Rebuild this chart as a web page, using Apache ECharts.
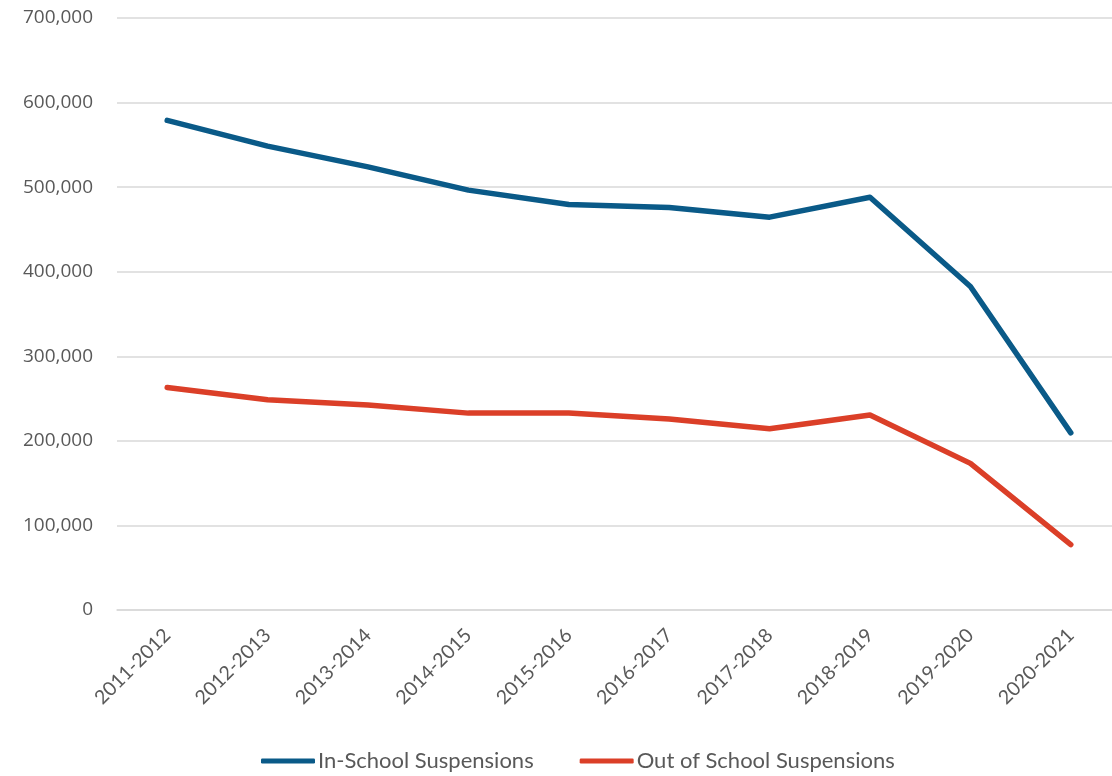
<!DOCTYPE html>
<html>
<head>
<meta charset="utf-8">
<script src="https://cdn.jsdelivr.net/npm/echarts@6/dist/echarts.min.js"></script>
<style>
  html, body { margin: 0; padding: 0; background: #ffffff; overflow: hidden; }
  /* canvas is a little wider than the page so the last band runs past the edge */
  #chart { width: 1130px; height: 776px; }
</style>
</head>
<body>
<div id="chart"></div>
<script>
// School years on the category axis
const schoolYears = ['2011-2012', '2012-2013', '2013-2014', '2014-2015', '2015-2016',
                     '2016-2017', '2017-2018', '2018-2019', '2019-2020', '2020-2021'];

// Suspension counts per school year
const inSchool = [579000, 548500, 524000, 496500, 479500, 476000, 464500, 488000, 382500, 209500];
const outOfSchool = [263200, 248500, 242500, 232800, 232800, 225800, 214200, 230600, 173400, 77300];

// Series names shown in the legend
const seriesNames = ['In-School Suspensions', 'Out of School Suspensions'];

const chart = echarts.init(document.getElementById('chart'), null, { renderer: 'canvas' });

const textColor = '#595959';
const gridColor = '#d9d9d9';

chart.setOption({
  animation: false,
  backgroundColor: '#ffffff',
  color: ['#0a5a88', '#db3f28'],
  grid: { left: 117, width: 1004, top: 18, bottom: 166, containLabel: false },
  legend: {
    data: seriesNames,
    top: 745,
    left: 256,
    icon: 'roundRect',
    itemWidth: 54,
    itemHeight: 5,
    itemGap: 46,
    textStyle: { fontFamily: 'Lato', fontSize: 22, color: textColor, padding: [0, 0, 0, -2] }
  },
  xAxis: {
    type: 'category',
    data: schoolYears,
    boundaryGap: true,
    axisLine: { lineStyle: { color: gridColor, width: 1.5 } },
    axisTick: { show: false },
    axisLabel: {
      rotate: 45,
      margin: 22,
      interval: 0,
      fontFamily: 'Lato',
      fontSize: 19.5,
      color: textColor
    }
  },
  yAxis: {
    type: 'value',
    min: 0,
    max: 700000,
    interval: 100000,
    axisLine: { show: false },
    axisTick: { show: false },
    splitLine: { lineStyle: { color: gridColor, width: 1.5 } },
    axisLabel: {
      margin: 24,
      fontFamily: 'Open Sans',
      fontSize: 19,
      color: textColor,
      formatter: v => v.toLocaleString('en-US')
    }
  },
  series: [
    {
      name: seriesNames[0],
      type: 'line',
      data: inSchool,
      symbol: 'none',
      lineStyle: { width: 5.5, cap: 'round', join: 'round' }
    },
    {
      name: seriesNames[1],
      type: 'line',
      data: outOfSchool,
      symbol: 'none',
      lineStyle: { width: 5.5, cap: 'round', join: 'round' }
    }
  ]
});
</script>
</body>
</html>
